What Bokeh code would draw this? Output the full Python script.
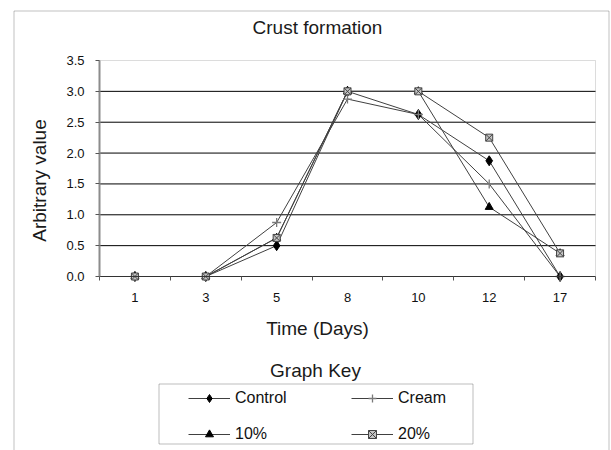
import math
from bokeh.plotting import figure
from bokeh.models import (Range1d, FixedTicker, NumeralTickFormatter, Label,
                          BoxAnnotation, Legend, LegendItem, ColumnDataSource)
from bokeh.embed import file_html
from bokeh.resources import INLINE

# ---- data ----
days = ["1", "3", "5", "8", "10", "12", "17"]
control = [0, 0, 0.5, 3.0, 2.625, 1.875, 0]
cream = [0, 0, 0.875, 2.875, 2.625, 1.5, 0]
pct10 = [0, 0, 0.625, 3.0, 3.0, 1.125, 0.375]
pct20 = [0, 0, 0.625, 3.0, 3.0, 2.25, 0.375]
y_ticks = [0.0, 0.5, 1.0, 1.5, 2.0, 2.5, 3.0, 3.5]

FONT = "Liberation Sans"
x_pos = [i + 0.5 for i in range(len(days))]
boundaries = list(range(len(days) + 1))
X0, X1 = 0, len(days)
Y0, Y1 = y_ticks[0], y_ticks[-1]

# layout geometry (pixels inside the canvas)
FIG_W, FIG_H = 611, 450
PL, PR, PT, PB = 99, 595, 60, 276
xs = (X1 - X0) / (PR - PL)
ys = (Y1 - Y0) / (PB - PT)

p = figure(width=FIG_W, height=FIG_H, output_backend="svg", toolbar_location=None,
           x_range=Range1d(X0 - PL * xs, X1 + (FIG_W - PR) * xs),
           y_range=Range1d(Y0 - (FIG_H - PB) * ys, Y1 + PT * ys),
           min_border=0, title=None)
p.background_fill_color = "white"
p.border_fill_color = "white"
p.outline_line_color = None
p.xgrid.visible = False
p.ygrid.visible = False

# plot-area border
p.add_layout(BoxAnnotation(left=X0, right=X1, bottom=Y0, top=Y1, fill_alpha=0,
                           line_color="#8c8c8c", line_width=1, level="underlay"))
# horizontal gridlines
grid_y = y_ticks[1:-1]
p.segment(x0=[X0] * len(grid_y), x1=[X1] * len(grid_y), y0=grid_y, y1=grid_y,
          line_color="#000000", line_width=1)

# y axis
ya = p.yaxis[0]
ya.fixed_location = X0
ya.bounds = (Y0, Y1)
ya.ticker = FixedTicker(ticks=y_ticks)
ya.formatter = NumeralTickFormatter(format="0.0")
ya.major_tick_out = 4
ya.major_tick_in = 0
ya.minor_tick_out = 0
ya.minor_tick_in = 0
ya.axis_line_color = "#8c8c8c"
ya.axis_line_width = 2
ya.major_tick_line_color = "#555555"
ya.major_label_standoff = 11
ya.major_label_text_font = FONT
ya.major_label_text_font_size = "13px"
ya.major_label_text_color = "#111111"

# x axis
xa = p.xaxis[0]
xa.fixed_location = Y0
xa.bounds = (X0, X1)
xa.ticker = FixedTicker(ticks=x_pos, minor_ticks=boundaries)
xa.major_label_overrides = {x: d for x, d in zip(x_pos, days)}
xa.major_tick_out = 0
xa.major_tick_in = 0
xa.minor_tick_out = 4
xa.minor_tick_in = 0
xa.minor_tick_line_color = "#555555"
xa.axis_line_color = "#333333"
xa.major_label_standoff = 12
xa.major_label_text_font = FONT
xa.major_label_text_font_size = "13px"
xa.major_label_text_color = "#111111"

LINE = "#404040"
series = [
    ("Control", control, dict(marker="diamond", size=10, fill_color="black", line_color="black")),
    ("Cream", cream, dict(marker="cross", size=9, line_color="#7a7a7a", line_width=1.3)),
    ("10%", pct10, dict(marker="triangle", size=8, fill_color="black", line_color="black")),
    ("20%", pct20, dict(marker="square_x", size=7, fill_color="#c4c4c4", line_color="#444444")),
]

legend_items = {}
line_rs = []
for name, vals, mk in series:
    src = ColumnDataSource(dict(x=x_pos, y=vals))
    lr = p.line("x", "y", source=src, line_color=LINE, line_width=1)
    line_rs.append((name, lr, src, mk))
for name, lr, src, mk in line_rs:
    sr = p.scatter("x", "y", source=src, **mk)
    legend_items[name] = LegendItem(label=name, renderers=[lr, sr])

# legend columns are filled top-to-bottom: first column Control / 10%, second Cream / 20%
legend_order = ["Control", "10%", "Cream", "20%"]
legend = Legend(items=[legend_items[n] for n in legend_order], ncols=2, location=(188, 6),
                border_line_color=None, background_fill_alpha=0,
                padding=0, margin=0, spacing=16,
                glyph_width=42, glyph_height=20, label_width=100, label_height=20,
                label_standoff=5, label_text_font=FONT, label_text_font_size="16px",
                label_text_color="#111111")
p.add_layout(legend)

# key box and outer frame (screen units: from canvas left / bottom)
p.add_layout(BoxAnnotation(left=158.5, right=472.5, top=66.5, bottom=6.5,
                           left_units="screen", right_units="screen",
                           top_units="screen", bottom_units="screen",
                           fill_alpha=0, line_color="#222222", line_width=1))
p.add_layout(BoxAnnotation(left=13.5, right=608.5, top=439.5, bottom=-10,
                           left_units="screen", right_units="screen",
                           top_units="screen", bottom_units="screen",
                           fill_alpha=0, line_color="#333333", line_width=1))

def txt(x, y, s, size, angle=0.0):
    p.add_layout(Label(x=x, y=y, x_units="screen", y_units="screen", text=s,
                       angle=angle, text_align="center", text_baseline="middle",
                       text_font=FONT, text_font_size=size, text_color="#1a1a1a"))

txt(317, 423, "Crust formation", "19px")
txt(39, 270, "Arbitrary value", "19px", math.pi / 2)
txt(317, 122, "Time (Days)", "19px")
txt(315, 80, "Graph Key", "19px")

open("out.html", "w").write(file_html(p, INLINE))
